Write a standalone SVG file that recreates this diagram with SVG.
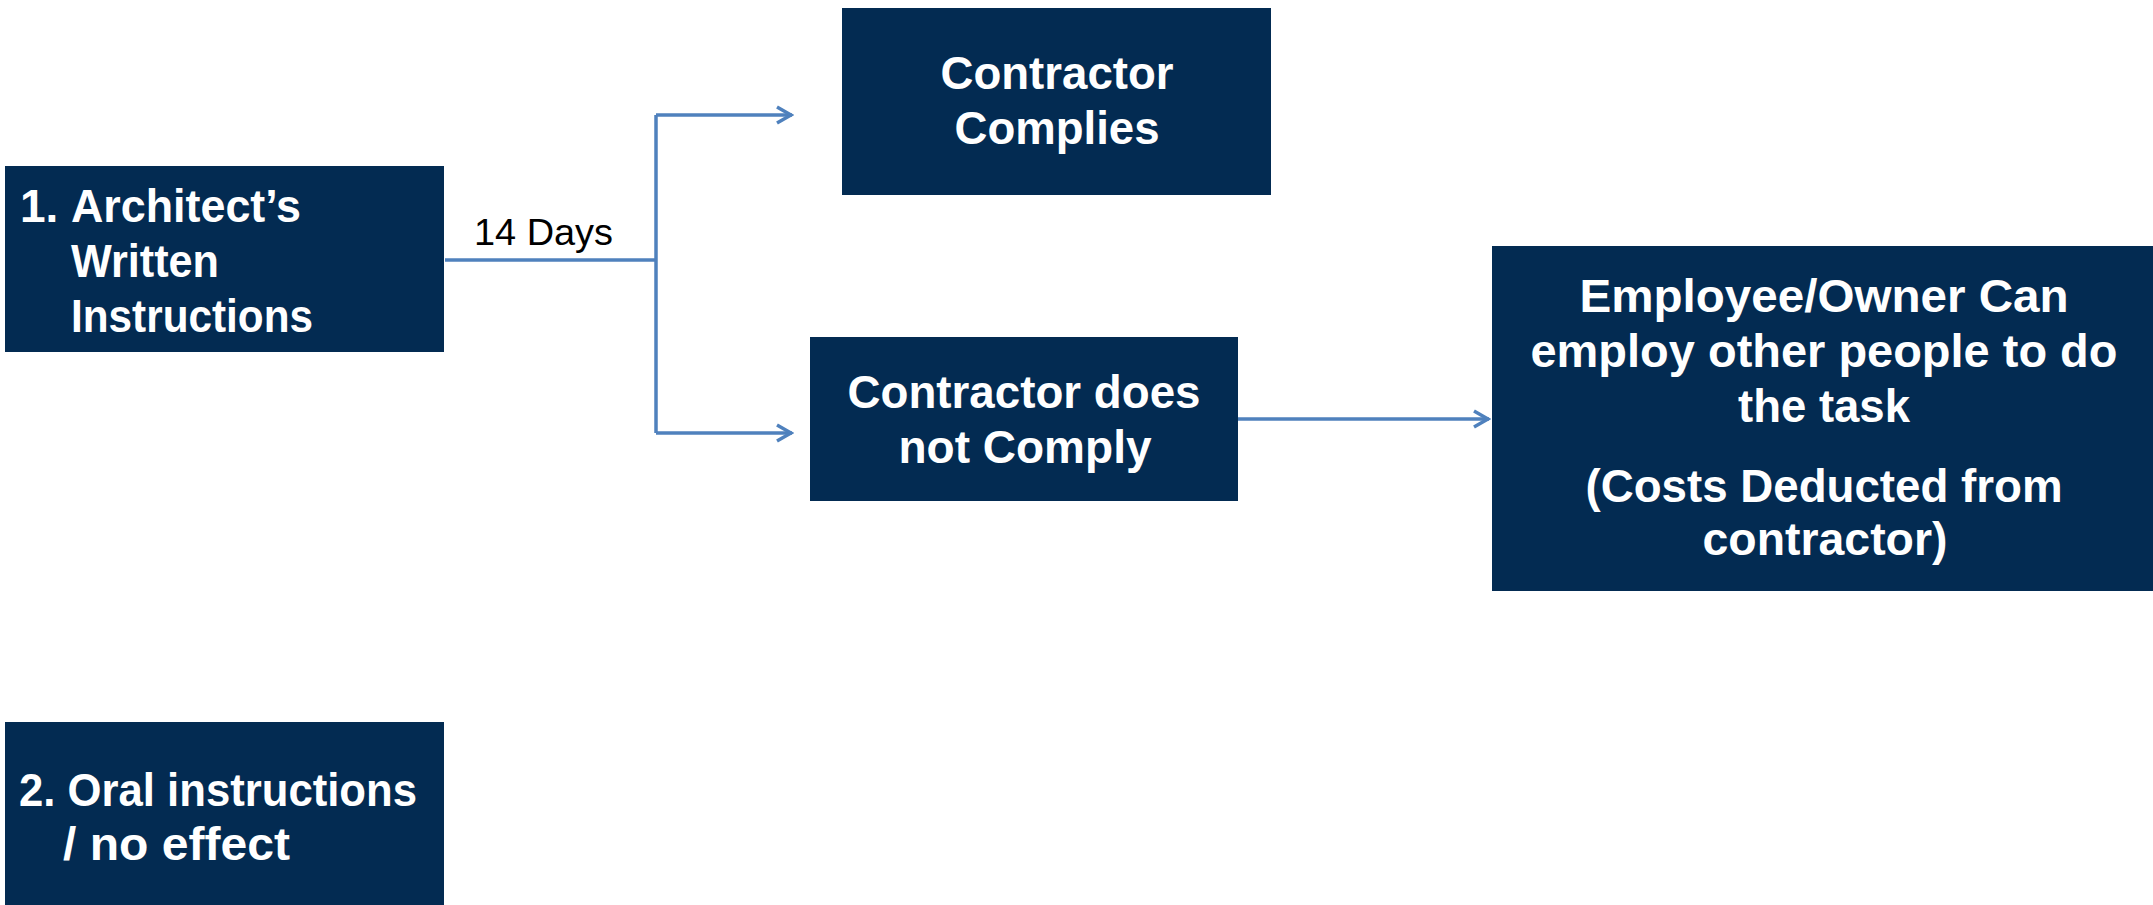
<svg xmlns="http://www.w3.org/2000/svg" width="2153" height="905" viewBox="0 0 2153 905">
<style>
.box{fill:#032B52}
.t{font-family:"Liberation Sans",Arial,sans-serif;font-weight:bold;font-size:46px;fill:#ffffff}
.c{text-anchor:middle}
.lbl{font-family:"Liberation Sans",Arial,sans-serif;font-size:37px;fill:#000000}
.conn{fill:none;stroke:#4F81BD;stroke-width:3.5}
</style>
<defs>
<marker id="arr" markerWidth="18" markerHeight="22" refX="16" refY="11" orient="auto" markerUnits="userSpaceOnUse">
<path d="M1,3 L15,11 L1,19" fill="none" stroke="#4F81BD" stroke-width="3.5" stroke-linejoin="miter"/>
</marker>
</defs>
<rect width="2153" height="905" fill="#ffffff"/>
<g id="connectors">
<path class="conn" d="M445,260 H656"/>
<path class="conn" d="M656,115 V433"/>
<path class="conn" d="M656,115 H792" marker-end="url(#arr)"/>
<path class="conn" d="M656,433 H792" marker-end="url(#arr)"/>
<path class="conn" d="M1238,419 H1489" marker-end="url(#arr)"/>
<text class="lbl" x="474" y="245" textLength="139" lengthAdjust="spacingAndGlyphs">14 Days</text>
</g>
<g id="node-written">
<rect class="box" x="5" y="166" width="439" height="186"/>
<text class="t" x="20" y="222">1.</text>
<text class="t" x="71" y="222" textLength="230" lengthAdjust="spacingAndGlyphs">Architect’s</text>
<text class="t" x="71" y="277" textLength="148" lengthAdjust="spacingAndGlyphs">Written</text>
<text class="t" x="71" y="332" textLength="242" lengthAdjust="spacingAndGlyphs">Instructions</text>
</g>
<g id="node-complies">
<rect class="box" x="842" y="8" width="429" height="187"/>
<text class="t c" x="1057" y="89" textLength="233" lengthAdjust="spacingAndGlyphs">Contractor</text>
<text class="t c" x="1057" y="144" textLength="205" lengthAdjust="spacingAndGlyphs">Complies</text>
</g>
<g id="node-notcomply">
<rect class="box" x="810" y="337" width="428" height="164"/>
<text class="t c" x="1024" y="408" textLength="353" lengthAdjust="spacingAndGlyphs">Contractor does</text>
<text class="t c" x="1025" y="463" textLength="253" lengthAdjust="spacingAndGlyphs">not Comply</text>
</g>
<g id="node-employ">
<rect class="box" x="1492" y="246" width="665" height="345"/>
<text class="t c" x="1824" y="312" textLength="489" lengthAdjust="spacingAndGlyphs">Employee/Owner Can</text>
<text class="t c" x="1824" y="367" textLength="587" lengthAdjust="spacingAndGlyphs">employ other people to do</text>
<text class="t c" x="1824" y="422" textLength="172" lengthAdjust="spacingAndGlyphs">the task</text>
<text class="t c" x="1824" y="502" textLength="477" lengthAdjust="spacingAndGlyphs">(Costs Deducted from</text>
<text class="t c" x="1825" y="555" textLength="245" lengthAdjust="spacingAndGlyphs">contractor)</text>
</g>
<g id="node-oral">
<rect class="box" x="5" y="722" width="439" height="190"/>
<text class="t" x="19" y="806" textLength="398" lengthAdjust="spacingAndGlyphs">2. Oral instructions</text>
<text class="t" x="63" y="860" textLength="227" lengthAdjust="spacingAndGlyphs">/ no effect</text>
</g>
</svg>
